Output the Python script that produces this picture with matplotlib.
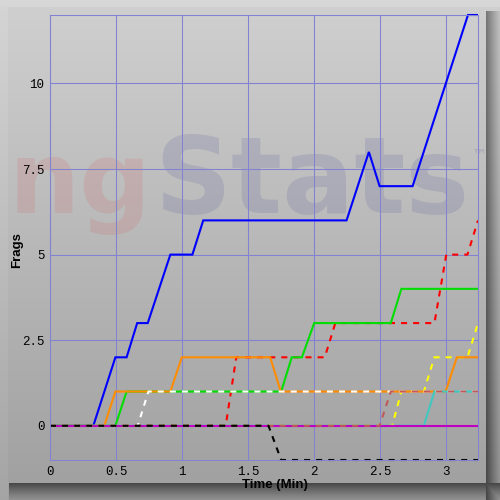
import numpy as np
import matplotlib
matplotlib.use("Agg")
import matplotlib.pyplot as plt

# ---- data ----
blue_x = [0, 0.328, 0.495, 0.58, 0.66, 0.74, 0.911, 1.078, 1.16, 2.245, 2.414, 2.495, 2.745, 3.164, 3.24]
blue_y = [0, 0, 2, 2, 3, 3, 5, 5, 6, 6, 8, 7, 7, 12, 12]

orange_x = [0, 0.411, 0.495, 0.911, 0.998, 1.667, 1.747, 2.995, 3.08, 3.24]
orange_y = [0, 0, 1, 1, 2, 2, 1, 1, 2, 2]

green_x = [0, 0.495, 0.58, 1.75, 1.83, 1.907, 2.0, 2.58, 2.66, 3.24]
green_y = [0, 0, 1, 1, 2, 2, 3, 3, 4, 4]

red_x = [0, 1.33, 1.41, 2.08, 2.16, 2.91, 3.0, 3.16, 3.24]
red_y = [0, 0, 2, 2, 3, 3, 5, 5, 6]

white_x = [0, 0.664, 0.745, 3.24]
white_y = [0, 0, 1, 1]

black_x = [0, 1.654, 1.75, 3.24]
black_y = [0, 0, -1, -1]

magenta_x = [0, 3.24]
magenta_y = [0, 0]

cyan_x = [0, 2.83, 2.91, 3.24]
cyan_y = [0, 0, 1, 1]

yellow_x = [0, 2.59, 2.66, 2.83, 2.91, 3.16, 3.24]
yellow_y = [0, 0, 1, 1, 2, 2, 3]

brown_x = [0, 2.495, 2.58, 3.24]
brown_y = [0, 0, 1, 1]

x_ticks = [0, 0.5, 1, 1.5, 2, 2.5, 3]
x_ticklabels = ["0", "0.5", "1", "1.5", "2", "2.5", "3"]
y_ticks = [0, 2.5, 5, 7.5, 10]
y_ticklabels = ["0", "2.5", "5", "7.5", "10"]

# ---- figure ----
W = H = 500
fig = plt.figure(figsize=(5, 5), dpi=100)

# background panel with bevel / shadow
rows = np.arange(H)[:, None] * np.ones((1, W))
cols = np.ones((H, 1)) * np.arange(W)[None, :]
v = 0.815 - 0.19 * (rows / H)
v = np.where(rows < 7, v + 0.03, v)
v = np.where((cols < 8) & (rows >= 7), v + 0.02, v)
rs = np.clip((cols - 486) / 14.0, 0, 1)
bs = np.clip((rows - 483) / 17.0, 0, 1)
shade_r = np.where(cols >= 486, 0.30 * (1 - rs) ** 1.2 + 0.05, 0)
shade_b = np.where(rows >= 483, 0.30 * (1 - bs) ** 1.2 + 0.05, 0)
shade = np.maximum(shade_r * (rows > 10), shade_b * (cols > 8))
v = v - shade
img = np.dstack([v, v, v])
bg = fig.add_axes([0, 0, 1, 1], zorder=-2)
bg.imshow(img, extent=[0, W, H, 0], aspect="auto", interpolation="bilinear")
bg.set_xlim(0, W)
bg.set_ylim(H, 0)
bg.axis("off")

# watermark
px = lambda x, y: (x / W, 1 - y / H)
fig.text(*px(9, 213), "ng", fontsize=72, fontweight="bold", family="DejaVu Sans",
         color=(0.85, 0.25, 0.25, 0.13), ha="left", va="baseline", zorder=-1)
fig.text(*px(154, 213), "Stats", fontsize=77, fontweight="bold", family="DejaVu Sans",
         color=(0.25, 0.25, 0.6, 0.14), ha="left", va="baseline", zorder=-1)
fig.text(*px(472, 160), "™", fontsize=11, fontweight="bold", family="DejaVu Sans",
         color=(0.25, 0.25, 0.6, 0.16), ha="left", va="baseline", zorder=-1)

grid_c = "#8282d2"
ax = fig.add_axes([50 / W, 1 - 460 / H, 428 / W, 445 / H])
ax.patch.set_alpha(0)
ax.set_xlim(0, 3.24)
ax.set_ylim(-1, 12)
ax.set_xticks(x_ticks)
ax.set_xticklabels(x_ticklabels)
ax.set_yticks(y_ticks)
ax.set_yticklabels(y_ticklabels)
ax.tick_params(length=0, pad=4, labelsize=9, labelcolor="black")
for lab in ax.get_xticklabels() + ax.get_yticklabels():
    lab.set_family("Liberation Mono")
ax.grid(True, color=grid_c, lw=0.75)
ax.set_axisbelow(True)
for s in ax.spines.values():
    s.set_color(grid_c)
    s.set_linewidth(0.75)

lw = 1.5
dash = (2.9, 2.9)
common = dict(lw=lw, antialiased=True, solid_joinstyle="miter", solid_capstyle="butt",
              dash_capstyle="butt", clip_on=False)

# drawing order mimics the overlaps in the reference
ax.plot(red_x, red_y, color="#ff0000", dashes=dash, **common)
ax.plot(yellow_x, yellow_y, color="#ffff00", dashes=dash, **common)
ax.plot(blue_x, blue_y, color="#0000ff", **common)
ax.plot(green_x, green_y, color="#00dd00", **common)
ax.plot(orange_x, orange_y, color="#ff8c00", **common)
ax.plot(cyan_x, cyan_y, color="#40c8c0", **common)
ax.plot(magenta_x, magenta_y, color="#c000c0", **common)
ax.plot(white_x, white_y, color="#ffffff", dashes=dash, **common)
ax.plot(brown_x, brown_y, color="#c05a5a", dashes=dash, **common)
ax.plot(black_x, black_y, color="#000000", dashes=dash, **common)

fig.text(*px(17, 250), "Frags", rotation=90, fontsize=9.5, fontweight="bold",
         family="Liberation Sans", ha="center", va="center")
fig.text(*px(275, 485), "Time (Min)", fontsize=9.5, fontweight="bold",
         family="Liberation Sans", ha="center", va="center")

fig.savefig("out.png", dpi=100)
